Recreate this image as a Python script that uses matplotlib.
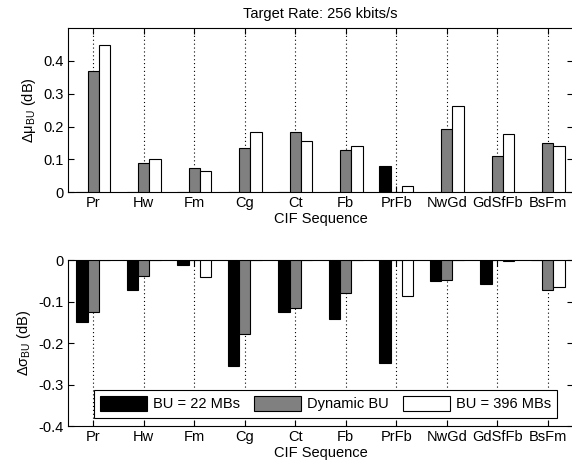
import numpy as np
import matplotlib
matplotlib.use("Agg")
import matplotlib.pyplot as plt

plt.rcParams["font.family"] = ["Liberation Sans", "DejaVu Sans"]
plt.rcParams["mathtext.fontset"] = "custom"
plt.rcParams["mathtext.rm"] = "Liberation Sans"
plt.rcParams["mathtext.it"] = "Liberation Sans"
plt.rcParams["axes.unicode_minus"] = False

sequences = ["Pr", "Hw", "Fm", "Cg", "Ct", "Fb", "PrFb", "NwGd", "GdSfFb", "BsFm"]
series = ["BU = 22 MBs", "Dynamic BU", "BU = 396 MBs"]
colors = ["black", "#808080", "white"]

# delta mean (dB)
mu_bu22 = [0, 0, 0, 0, 0, 0, 0.079, 0, 0, 0]
mu_dyn = [0.370, 0.088, 0.074, 0.135, 0.182, 0.128, 0, 0.192, 0.111, 0.149]
mu_bu396 = [0.447, 0.102, 0.064, 0.185, 0.156, 0.142, 0.018, 0.262, 0.178, 0.142]

# delta sigma (dB)
sd_bu22 = [-0.149, -0.073, -0.011, -0.255, -0.126, -0.141, -0.247, -0.051, -0.058, 0]
sd_dyn = [-0.125, -0.039, 0, -0.178, -0.115, -0.080, 0, -0.047, 0, -0.073]
sd_bu396 = [0, 0, -0.042, 0, 0, 0, -0.087, 0, -0.003, -0.064]

W, H = 572, 469
fig = plt.figure(figsize=(W / 100, H / 100), dpi=100)
ax1 = fig.add_axes([68 / W, 1 - 192.3 / H, 505 / W, 164.3 / H])
ax2 = fig.add_axes([68 / W, 1 - 426 / H, 505 / W, 166 / H])

x = np.arange(1, len(sequences) + 1)
width = 0.225
offsets = [-0.225, 0, 0.225]
fs = 10.5

for ax, data in [(ax1, [mu_bu22, mu_dyn, mu_bu396]), (ax2, [sd_bu22, sd_dyn, sd_bu396])]:
    for vals, off, c, lab in zip(data, offsets, colors, series):
        ax.bar(x + off, vals, width, color=c, edgecolor="black", linewidth=0.8,
               label=lab, zorder=3)
    ax.set_xlim(0.5, 10.5)
    ax.set_xticks(x)
    ax.set_xticklabels(sequences, fontsize=fs)
    ax.xaxis.grid(True, linestyle=(0, (1, 2.5)), color="black", linewidth=0.8, zorder=0)
    ax.tick_params(direction="in", top=True, right=True, labelsize=fs, length=4, width=0.8,
                   pad=3)
    ax.set_xlabel("CIF Sequence", fontsize=fs, labelpad=1)
    for s in ax.spines.values():
        s.set_linewidth(0.8)

ax1.set_ylim(0, 0.5)
ax1.set_yticks([0, 0.1, 0.2, 0.3, 0.4])
ax1.set_yticklabels(["0", "0.1", "0.2", "0.3", "0.4"])
ax1.set_ylabel("Δμ$_{\\rm BU}$ (dB)", fontsize=fs)
ax1.set_title("Target Rate: 256 kbits/s", fontsize=fs, pad=7)

ax2.set_ylim(-0.4, 0)
ax2.set_yticks([-0.4, -0.3, -0.2, -0.1, 0])
ax2.set_yticklabels(["-0.4", "-0.3", "-0.2", "-0.1", "0"])
ax2.set_ylabel("Δσ$_{\\rm BU}$ (dB)", fontsize=fs)
leg = ax2.legend(loc="lower center", bbox_to_anchor=(0.51, 0.048), ncol=3, fontsize=fs,
                 fancybox=False, framealpha=1, edgecolor="black", handlelength=3.2,
                 handleheight=1.15, columnspacing=1.0, handletextpad=0.4,
                 borderpad=0.45, borderaxespad=0)
leg.get_frame().set_linewidth(0.8)
leg.set_zorder(5)

fig.savefig("out.png", dpi=100)
